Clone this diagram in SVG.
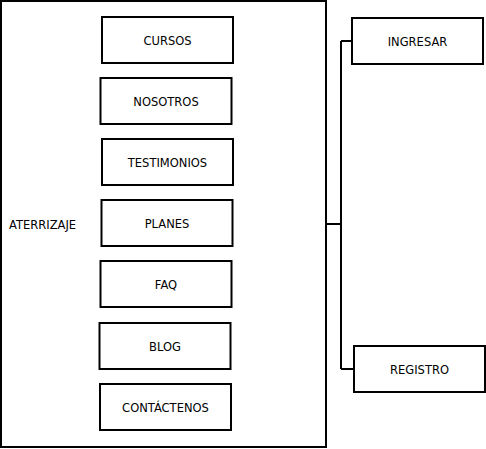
<svg xmlns="http://www.w3.org/2000/svg" width="486" height="449" viewBox="0 0 486 449">
<style>
.box{fill:#fff;stroke:#000;stroke-width:2}
.lbl{font-family:"DejaVu Sans",Verdana,sans-serif;font-size:11.5px;fill:#000;text-anchor:middle}
.conn{fill:none;stroke:#000;stroke-width:2}
</style>
<rect width="486" height="449" fill="#fff"/>
<g id="aterrizaje">
<rect class="box" x="1" y="1" width="325" height="446"/>
<text class="lbl" x="9" y="228.5" style="text-anchor:start">ATERRIZAJE</text>
</g>
<g id="connectors">
<path class="conn" d="M326 224 H341 M341 41 V369 M341 41 H352 M341 369 H354"/>
</g>
<g id="cursos"><rect class="box" x="102" y="17" width="131" height="46"/><text class="lbl" x="167.5" y="45">CURSOS</text></g>
<g id="nosotros"><rect class="box" x="100.5" y="78" width="131" height="46"/><text class="lbl" x="166" y="106">NOSOTROS</text></g>
<g id="testimonios"><rect class="box" x="102" y="139" width="131" height="46"/><text class="lbl" x="167.5" y="167">TESTIMONIOS</text></g>
<g id="planes"><rect class="box" x="101.5" y="200" width="131" height="46"/><text class="lbl" x="167" y="228">PLANES</text></g>
<g id="faq"><rect class="box" x="100.5" y="261" width="131" height="46"/><text class="lbl" x="166" y="289">FAQ</text></g>
<g id="blog"><rect class="box" x="99.5" y="323" width="131" height="46"/><text class="lbl" x="165" y="351">BLOG</text></g>
<g id="contactenos"><rect class="box" x="100" y="384" width="131" height="46"/><text class="lbl" x="165.5" y="412">CONTÁCTENOS</text></g>
<g id="ingresar"><rect class="box" x="352" y="18" width="131" height="46"/><text class="lbl" x="417.5" y="46">INGRESAR</text></g>
<g id="registro"><rect class="box" x="354" y="346" width="131" height="46"/><text class="lbl" x="419.5" y="374">REGISTRO</text></g>
</svg>
